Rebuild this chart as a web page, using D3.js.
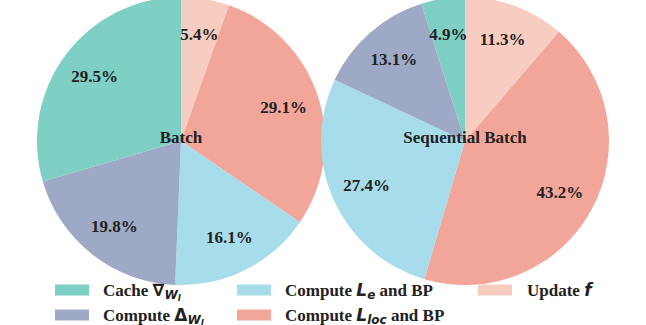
<!DOCTYPE html>
<html>
<head>
<meta charset="utf-8">
<script src="https://cdn.jsdelivr.net/npm/d3@7"></script>
<style>
  body { margin: 0; background: #fff; }
  svg { display: block; }
  text { fill: #222; }
</style>
</head>
<body>
<div id="chart"></div>
<script>
// DATA
// slice order, clockwise from 12 o'clock
var categories = ["Update f", "Compute L_loc", "Compute L_e", "Compute Delta", "Cache grad"];
var batchValues = [5.4, 29.1, 16.1, 19.8, 29.5];
var seqBatchValues = [11.3, 43.2, 27.4, 13.1, 4.9];
var pieTitles = ["Batch", "Sequential Batch"];

// legend, in display order (math parts between $ $, _ = subscript)
var legendCats = ["Cache grad", "Compute Delta", "Compute L_e", "Compute L_loc", "Update f"];
var legendLabels = ["Cache $∇_W_l$", "Compute $Δ_W_l$", "Compute $L_e$ and BP", "Compute $L_loc$ and BP", "Update $f$"];

var colors = {
  "Cache grad": "#7ecfc4",
  "Compute Delta": "#9ea9c5",
  "Compute L_e": "#a7dcea",
  "Compute L_loc": "#f2a69a",
  "Update f": "#f8cdc1"
};

var width = 646, height = 325;
var svg = d3.select("#chart").append("svg")
  .attr("width", width)
  .attr("height", height);

var color = d3.scaleOrdinal()
  .domain(categories)
  .range(categories.map(function(c) { return colors[c]; }));

var radius = 144;
var pie = d3.pie().sort(null).value(function(d) { return d.value; });
var arc = d3.arc().innerRadius(0).outerRadius(radius);
var labelArc = d3.arc().innerRadius(radius * 0.75).outerRadius(radius * 0.75);

var centers = [[181, 141], [465, 141]];
var series = [batchValues, seqBatchValues];

series.forEach(function(vals, i) {
  var data = categories.map(function(c, j) { return {cat: c, value: vals[j]}; });
  var g = svg.append("g")
    .attr("transform", "translate(" + centers[i][0] + "," + centers[i][1] + ")");

  var arcs = pie(data);

  g.selectAll("path")
    .data(arcs)
    .enter().append("path")
    .attr("d", arc)
    .attr("fill", function(d) { return color(d.data.cat); });

  g.selectAll("text.pct")
    .data(arcs)
    .enter().append("text")
    .attr("class", "pct")
    .attr("transform", function(d) { return "translate(" + labelArc.centroid(d) + ")"; })
    .attr("text-anchor", "middle")
    .attr("dominant-baseline", "central")
    .style("font-family", "'Liberation Serif', 'Times New Roman', serif")
    .style("font-weight", "bold")
    .style("font-size", "17px")
    .text(function(d) { return d.data.value.toFixed(1) + "%"; });

  g.append("text")
    .attr("y", -4)
    .attr("text-anchor", "middle")
    .attr("dominant-baseline", "central")
    .style("font-family", "'Liberation Serif', 'Times New Roman', serif")
    .style("font-weight", "bold")
    .style("font-size", "17px")
    .text(pieTitles[i]);
});

// LEGEND
var legendX = [[55, 103], [237, 285], [478, 527]];
var legendY = [290, 315];

function writeLabel(textSel, label) {
  var parts = label.split("$");
  var pending = 0;
  parts.forEach(function(p, k) {
    if (p === "") return;
    if (k % 2 === 0) {
      var ts = textSel.append("tspan").text(p);
      if (pending) { ts.attr("dy", -pending); pending = 0; }
      return;
    }
    var bits = p.split("_");
    var base = bits[0];
    var upright = (base === "∇" || base === "Δ");
    textSel.append("tspan")
      .style("font-family", "'DejaVu Sans', sans-serif")
      .style("font-style", upright ? "normal" : "italic")
      .style("font-size", "17px")
      .text(base);
    if (bits[1]) {
      textSel.append("tspan")
        .attr("dy", 3)
        .style("font-family", "'DejaVu Sans', sans-serif")
        .style("font-style", "italic")
        .style("font-size", "12px")
        .text(bits[1]);
      pending += 3;
    }
    if (bits[2]) {
      textSel.append("tspan")
        .attr("dy", 2)
        .style("font-family", "'DejaVu Sans', sans-serif")
        .style("font-style", "italic")
        .style("font-size", "8.5px")
        .text(bits[2]);
      pending += 2;
    }
  });
}

var legend = svg.append("g").attr("class", "legend");

legendCats.forEach(function(c, i) {
  var col = i >> 1, row = i % 2;
  var x = legendX[col], y = legendY[row];
  legend.append("rect")
    .attr("x", x[0])
    .attr("y", y - 5.5)
    .attr("width", 34)
    .attr("height", 11)
    .attr("fill", color(c));
  var t = legend.append("text")
    .attr("x", x[1])
    .attr("y", y + 6)
    .style("font-family", "'Liberation Serif', 'Times New Roman', serif")
    .style("font-weight", "bold")
    .style("font-size", "17px");
  writeLabel(t, legendLabels[i]);
});
</script>
</body>
</html>
